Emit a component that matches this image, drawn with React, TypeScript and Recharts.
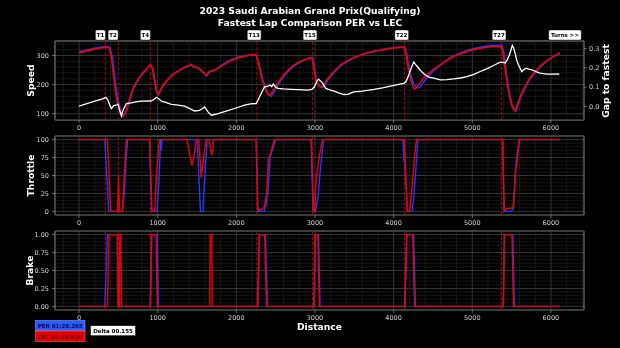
import React from 'react';
import { LineChart, Line, XAxis, YAxis, CartesianGrid, ReferenceLine, ReferenceArea } from 'recharts';

type Pt = [number, number];

// ---------- data ----------
const distanceTicks = [0, 1000, 2000, 3000, 4000, 5000, 6000];
const speedTicks = [100, 200, 300];
const gapTicks = [0, 0.1, 0.2, 0.3];
const throttleTicks = [0, 25, 50, 75, 100];
const brakeTicks = [0, 0.25, 0.5, 0.75, 1];

const turnNames = ['T1', 'T2', 'T4', 'T13', 'T15', 'T22', 'T27'];
const turnLineDist = [335, 500, 907, 2260, 2968, 4139, 5373];
const turnLabelDist = [272, 433, 843, 2227, 2937, 4103, 5341];
const turnsMoreText = 'Turns >>';
const turnsMoreDist = 6179;

const titleLines = ['2023 Saudi Arabian Grand Prix(Qualifying)', 'Fastest Lap Comparison PER vs LEC'];
const driverNames = ['PER', 'LEC'];
const lapTimes = ['01:28.265', '01:28.420'];
const deltaText = 'Delta 00.155';

const perSpeed: Pt[] = [
  [0, 312], [100, 319], [200, 325], [300, 330], [370, 331], [395, 326], [425, 290], [455, 225], [480, 170],
  [505, 135], [525, 118], [540, 100], [558, 89], [580, 96], [610, 115], [650, 150], [690, 184], [730, 206],
  [770, 223], [810, 238], [860, 253], [895, 265], [915, 268], [940, 250], [965, 210], [990, 172], [1012, 165],
  [1050, 188], [1128, 216], [1190, 234], [1255, 246], [1330, 257], [1400, 265], [1430, 268], [1445, 263],
  [1510, 259], [1560, 245], [1625, 230], [1645, 238], [1665, 245], [1700, 247], [1722, 250], [1800, 264],
  [1892, 280], [2019, 294], [2147, 301], [2255, 302], [2290, 270], [2330, 222], [2370, 188], [2410, 166],
  [2443, 160], [2475, 172], [2530, 200], [2610, 231], [2690, 254], [2770, 271], [2850, 283], [2930, 291],
  [2968, 294], [2995, 255], [3020, 212], [3050, 196], [3090, 190], [3115, 194], [3170, 219], [3250, 244],
  [3340, 268], [3430, 283], [3510, 294], [3610, 304], [3710, 312], [3810, 318], [3910, 323], [4010, 327],
  [4090, 329], [4140, 330], [4170, 300], [4205, 245], [4250, 205], [4290, 190], [4330, 189], [4370, 205],
  [4436, 228], [4500, 245], [4570, 262], [4650, 279], [4750, 297], [4850, 309], [4950, 319], [5050, 326],
  [5150, 331], [5250, 334], [5375, 335], [5400, 310], [5425, 255], [5465, 182], [5505, 130], [5535, 110],
  [5555, 108], [5585, 133], [5625, 163], [5685, 196], [5745, 223], [5805, 244], [5885, 266], [5965, 284],
  [6045, 298], [6115, 308],
];

const lecSpeed: Pt[] = [
  [0, 309], [100, 316], [200, 322], [300, 327], [360, 329], [385, 326], [410, 295], [440, 230], [465, 170],
  [490, 135], [515, 120], [530, 100], [548, 90], [570, 95], [600, 112], [640, 148], [680, 182], [720, 205],
  [760, 222], [800, 237], [850, 252], [890, 264], [912, 268], [935, 255], [960, 215], [985, 175], [1005, 166],
  [1060, 195], [1128, 217], [1190, 235], [1255, 246], [1330, 258], [1400, 266], [1430, 270], [1445, 262],
  [1510, 258], [1560, 248], [1616, 232], [1640, 240], [1660, 246], [1700, 246], [1722, 249], [1800, 262],
  [1892, 277], [2019, 292], [2147, 300], [2252, 302], [2285, 270], [2320, 225], [2360, 190], [2400, 167],
  [2425, 162], [2460, 175], [2520, 202], [2600, 232], [2680, 255], [2760, 272], [2840, 283], [2920, 290],
  [2962, 293], [2985, 260], [3010, 215], [3040, 198], [3075, 192], [3100, 195], [3160, 220], [3240, 245],
  [3330, 269], [3420, 283], [3500, 293], [3600, 303], [3700, 311], [3800, 317], [3900, 322], [4000, 326],
  [4080, 328], [4135, 329], [4160, 300], [4190, 250], [4230, 205], [4260, 185], [4280, 186], [4330, 205],
  [4400, 228], [4480, 246], [4560, 262], [4650, 278], [4750, 295], [4850, 306], [4950, 316], [5050, 322],
  [5150, 327], [5250, 330], [5370, 331], [5395, 305], [5420, 250], [5460, 180], [5500, 130], [5530, 112],
  [5550, 112], [5580, 135], [5620, 165], [5680, 198], [5740, 225], [5800, 245], [5880, 267], [5960, 284],
  [6040, 298], [6115, 309],
];

const gapToFastest: Pt[] = [
  [0, 0.0], [100, 0.013], [200, 0.026], [300, 0.038], [340, 0.046], [370, 0.03], [395, 0.0], [412, -0.012],
  [440, 0.003], [470, 0.005], [496, 0.01], [515, -0.02], [538, -0.05], [560, -0.02], [602, 0.014], [666, 0.017],
  [720, 0.022], [793, 0.026], [912, 0.027], [950, 0.035], [984, 0.046], [1010, 0.04], [1047, 0.026],
  [1110, 0.018], [1174, 0.01], [1260, 0.006], [1343, 0.0], [1420, -0.015], [1470, -0.025], [1530, -0.022],
  [1560, -0.015], [1597, -0.004], [1640, -0.03], [1681, -0.047], [1740, -0.042], [1808, -0.033], [1900, -0.022],
  [1977, -0.012], [2104, 0.005], [2180, 0.012], [2250, 0.014], [2274, 0.03], [2320, 0.07], [2357, 0.1],
  [2400, 0.105], [2430, 0.11], [2450, 0.102], [2470, 0.115], [2500, 0.1], [2527, 0.093], [2600, 0.09],
  [2696, 0.088], [2800, 0.086], [2906, 0.084], [2960, 0.088], [2991, 0.1], [3030, 0.135], [3046, 0.14],
  [3070, 0.132], [3096, 0.12], [3138, 0.093], [3190, 0.085], [3243, 0.079], [3300, 0.07], [3369, 0.061],
  [3420, 0.062], [3454, 0.068], [3496, 0.075], [3600, 0.079], [3749, 0.088], [3860, 0.096], [3961, 0.105],
  [4050, 0.112], [4130, 0.119], [4160, 0.13], [4193, 0.163], [4225, 0.2], [4256, 0.23], [4290, 0.212],
  [4320, 0.198], [4360, 0.178], [4404, 0.163], [4450, 0.152], [4510, 0.146], [4594, 0.137], [4680, 0.139],
  [4763, 0.142], [4850, 0.147], [4932, 0.154], [5020, 0.166], [5101, 0.181], [5190, 0.196], [5270, 0.212],
  [5355, 0.23], [5390, 0.228], [5418, 0.225], [5450, 0.245], [5481, 0.277], [5500, 0.305], [5510, 0.317],
  [5525, 0.305], [5545, 0.277], [5565, 0.24], [5587, 0.216], [5630, 0.18], [5655, 0.19], [5684, 0.198],
  [5720, 0.193], [5756, 0.19], [5810, 0.18], [5862, 0.172], [5946, 0.167], [6030, 0.167], [6106, 0.168],
];

const perThrottle: Pt[] = [
  [0, 100], [327, 100], [378, 0], [552, 0], [575, 25], [590, 60], [617, 100], [895, 100], [922, 0], [990, 0],
  [1015, 40], [1038, 100], [1044, 85], [1054, 100], [1502, 100], [1544, 0], [1574, 0], [1600, 50], [1629, 100],
  [2255, 100], [2275, 0], [2355, 0], [2380, 10], [2400, 25], [2430, 75], [2470, 90], [2503, 100], [2950, 100],
  [2975, 0], [3005, 0], [3040, 20], [3065, 55], [3090, 80], [3107, 100], [4120, 100], [4130, 70], [4140, 70],
  [4178, 0], [4235, 0], [4260, 25], [4290, 70], [4307, 100], [5386, 100], [5406, 0], [5490, 0], [5522, 3],
  [5547, 50], [5560, 70], [5597, 100], [6115, 100],
];

const lecThrottle: Pt[] = [
  [0, 100], [361, 100], [403, 0], [490, 0], [502, 50], [515, 0], [552, 0], [580, 60], [602, 100], [898, 100],
  [928, 0], [961, 0], [990, 60], [1024, 100], [1371, 100], [1435, 64], [1460, 76], [1489, 100], [1523, 100],
  [1553, 47], [1585, 75], [1616, 100], [1650, 100], [1688, 78], [1713, 100], [2250, 100], [2271, 2], [2334, 3],
  [2360, 8], [2385, 25], [2410, 73], [2440, 82], [2482, 100], [2955, 100], [2981, 0], [2998, 0], [3010, 36],
  [3032, 58], [3060, 80], [3095, 100], [4138, 100], [4172, 0], [4205, 0], [4240, 40], [4265, 75], [4290, 100],
  [5386, 100], [5406, 2], [5446, 4], [5522, 5], [5547, 50], [5572, 70], [5597, 100], [6115, 100],
];

const perBrake: Pt[] = [
  [0, 0], [327, 0], [361, 1], [490, 1], [500, 0], [910, 0], [925, 1], [994, 1], [1009, 0], [2275, 0],
  [2295, 1], [2370, 1], [2395, 0], [2990, 0], [3005, 1], [3045, 1], [3065, 0], [4145, 0], [4170, 1],
  [4255, 1], [4277, 0], [5395, 0], [5410, 1], [5515, 1], [5535, 0], [6115, 0],
];

const lecBrake: Pt[] = [
  [0, 0], [361, 0], [382, 1], [485, 1], [495, 0], [512, 0], [518, 1], [530, 1], [540, 0], [904, 0], [919, 1],
  [979, 1], [994, 0], [1662, 0], [1667, 1], [1687, 1], [1692, 0], [2270, 0], [2290, 1], [2359, 1], [2385, 0],
  [2985, 0], [3000, 1], [3037, 1], [3057, 0], [4140, 0], [4165, 1], [4242, 1], [4267, 0], [5395, 0],
  [5410, 1], [5505, 1], [5525, 0], [6115, 0],
];

// ---------- styling ----------
const FONT = '"DejaVu Sans", sans-serif';
const PER_COLOR = '#1f3cff';
const LEC_COLOR = '#ee0000';
const GAP_COLOR = '#ffffff';
const TURN_COLOR = '#c40000';
const MAJOR_GRID = '#4e4e4e';
const MINOR_GRID = '#262626';
const FRAME = '#8a8a8a';
const TICK_FILL = '#d0d0d0';

const X_DOMAIN: [number, number] = [-306, 6421];
const SPEED_DOMAIN: [number, number] = [78, 350];
const GAP_DOMAIN: [number, number] = [-0.072, 0.34];
const THR_DOMAIN: [number, number] = [-5, 105];
const BRK_DOMAIN: [number, number] = [-0.05, 1.05];

const W = 620;
const H = 348;
const CH = 135;
const MARGIN = { top: 41, right: 0, bottom: 0, left: 0 };
const PANEL_TOPS = [0, 95, 190];

const toData = (pts: Pt[]) => pts.map(([d, v]) => ({ d, v }));

const minorTicks = (lo: number, hi: number, step: number, major: number) => {
  const out: number[] = [];
  const n0 = Math.ceil(lo / step);
  const n1 = Math.floor(hi / step);
  for (let i = n0; i <= n1; i++) {
    const v = +(i * step).toFixed(6);
    const r = Math.abs(v / major - Math.round(v / major));
    if (r > 1e-6) out.push(v);
  }
  return out;
};

const xMinor = minorTicks(X_DOMAIN[0], X_DOMAIN[1], 200, 1000);

const tickStyle = { fill: TICK_FILL, fontSize: 6.5, fontFamily: FONT };

const TurnTag = (props: any) => {
  const vb = props.viewBox || {};
  const text: string = props.text;
  const w = text.length * 3.75 + 2.5;
  const x = vb.x;
  const yTop = vb.y - 11;
  return (
    <g>
      <rect x={x - w / 2} y={yTop} width={w} height={10} rx={1.5} ry={1.5} fill="#ffffff" stroke="#000" strokeWidth={0.4} />
      <text x={x} y={yTop + 7.1} textAnchor="middle" fontSize={5.5} fontWeight="bold" fontFamily={FONT} fill="#000">
        {text}
      </text>
    </g>
  );
};

function commonBackground(yMinor: number[]) {
  return [
    ...xMinor.map((v) => <ReferenceLine key={'xm' + v} x={v} stroke={MINOR_GRID} strokeWidth={0.6} />),
    ...yMinor.map((v) => <ReferenceLine key={'ym' + v} y={v} stroke={MINOR_GRID} strokeWidth={0.6} />),
  ];
}

function turnLines() {
  return turnLineDist.map((d, i) => (
    <ReferenceLine key={'tl' + i} x={d} stroke={TURN_COLOR} strokeWidth={0.9} strokeDasharray="3 2" />
  ));
}

function frame(yDomain: [number, number]) {
  return (
    <ReferenceArea
      x1={X_DOMAIN[0]}
      x2={X_DOMAIN[1]}
      y1={yDomain[0]}
      y2={yDomain[1]}
      fill="none"
      fillOpacity={0}
      stroke={FRAME}
      strokeWidth={0.8}
      ifOverflow="visible"
    />
  );
}

const xAxis = (
  <XAxis
    type="number"
    dataKey="d"
    domain={X_DOMAIN}
    allowDataOverflow
    ticks={distanceTicks}
    height={15}
    tick={tickStyle}
    tickSize={3}
    tickMargin={2}
    tickLine={{ stroke: '#aaaaaa', strokeWidth: 0.6 }}
    axisLine={false}
    interval={0}
  />
);

const layerStyle: React.CSSProperties = { position: 'absolute', left: 0, willChange: 'transform' };

export default function App() {
  const speedMinor = minorTicks(SPEED_DOMAIN[0], SPEED_DOMAIN[1], 20, 100);
  const thrMinor = minorTicks(THR_DOMAIN[0], THR_DOMAIN[1], 5, 25);
  const brkMinor = minorTicks(BRK_DOMAIN[0], BRK_DOMAIN[1], 0.05, 0.25);

  const yLabel = (text: string, x: number, y: number) => (
    <text
      x={x}
      y={y}
      transform={`rotate(-90 ${x} ${y})`}
      textAnchor="middle"
      dominantBaseline="central"
      fontSize={9.2}
      fontWeight="bold"
      fontFamily={FONT}
      fill="#ffffff"
    >
      {text}
    </text>
  );

  return (
    <div style={{ position: 'absolute', left: 0, top: 0, width: W, height: H, background: '#000', overflow: 'hidden' }}>
      {/* Speed panel */}
      <div style={{ ...layerStyle, top: PANEL_TOPS[0] }}>
        <LineChart width={W} height={CH} margin={MARGIN}>
          {commonBackground(speedMinor)}
          <CartesianGrid stroke={MAJOR_GRID} strokeWidth={0.7} />
          {xAxis}
          <YAxis
            type="number"
            domain={SPEED_DOMAIN}
            allowDataOverflow
            ticks={speedTicks}
            width={55}
            tick={tickStyle}
            tickSize={3}
            tickMargin={3}
            tickLine={{ stroke: '#aaaaaa', strokeWidth: 0.6 }}
            axisLine={false}
            interval={0}
          />
          <YAxis
            yAxisId="gap"
            orientation="right"
            type="number"
            domain={GAP_DOMAIN}
            allowDataOverflow
            ticks={gapTicks}
            tickFormatter={(v: number) => v.toFixed(1)}
            width={36}
            tick={tickStyle}
            tickSize={3}
            tickMargin={2}
            tickLine={{ stroke: '#aaaaaa', strokeWidth: 0.6 }}
            axisLine={false}
            interval={0}
          />
          {turnLines()}
          {turnNames.map((t, i) => (
            <ReferenceLine
              key={'tag' + i}
              x={turnLabelDist[i]}
              stroke="none"
              strokeOpacity={0}
              label={(p: any) => <TurnTag {...p} text={t} />}
            />
          ))}
          <ReferenceLine
            x={turnsMoreDist}
            stroke="none"
            strokeOpacity={0}
            label={(p: any) => <TurnTag {...p} text={turnsMoreText} />}
          />
          <Line data={toData(perSpeed)} dataKey="v" stroke={PER_COLOR} strokeWidth={1.6} dot={false} isAnimationActive={false} />
          <Line data={toData(lecSpeed)} dataKey="v" stroke={LEC_COLOR} strokeWidth={1.6} dot={false} isAnimationActive={false} />
          <Line data={toData(gapToFastest)} yAxisId="gap" dataKey="v" stroke={GAP_COLOR} strokeWidth={1.3} dot={false} isAnimationActive={false} />
          {frame(SPEED_DOMAIN)}
        </LineChart>
      </div>

      {/* Throttle panel */}
      <div style={{ ...layerStyle, top: PANEL_TOPS[1] }}>
        <LineChart width={W} height={CH} margin={{ ...MARGIN, right: 36 }}>
          {commonBackground(thrMinor)}
          <CartesianGrid stroke={MAJOR_GRID} strokeWidth={0.7} />
          {xAxis}
          <YAxis
            type="number"
            domain={THR_DOMAIN}
            allowDataOverflow
            ticks={throttleTicks}
            width={55}
            tick={tickStyle}
            tickSize={3}
            tickMargin={3}
            tickLine={{ stroke: '#aaaaaa', strokeWidth: 0.6 }}
            axisLine={false}
            interval={0}
          />
          {turnLines()}
          <Line data={toData(perThrottle)} dataKey="v" stroke={PER_COLOR} strokeWidth={1.4} dot={false} isAnimationActive={false} />
          <Line data={toData(lecThrottle)} dataKey="v" stroke={LEC_COLOR} strokeWidth={1.4} dot={false} isAnimationActive={false} />
          {frame(THR_DOMAIN)}
        </LineChart>
      </div>

      {/* Brake panel */}
      <div style={{ ...layerStyle, top: PANEL_TOPS[2] }}>
        <LineChart width={W} height={CH} margin={{ ...MARGIN, right: 36 }}>
          {commonBackground(brkMinor)}
          <CartesianGrid stroke={MAJOR_GRID} strokeWidth={0.7} />
          {xAxis}
          <YAxis
            type="number"
            domain={BRK_DOMAIN}
            allowDataOverflow
            ticks={brakeTicks}
            tickFormatter={(v: number) => v.toFixed(2)}
            width={55}
            tick={tickStyle}
            tickSize={3}
            tickMargin={3}
            tickLine={{ stroke: '#aaaaaa', strokeWidth: 0.6 }}
            axisLine={false}
            interval={0}
          />
          {turnLines()}
          <Line data={toData(perBrake)} dataKey="v" stroke={PER_COLOR} strokeWidth={1.4} dot={false} isAnimationActive={false} />
          <Line data={toData(lecBrake)} dataKey="v" stroke={LEC_COLOR} strokeWidth={1.4} dot={false} isAnimationActive={false} />
          {frame(BRK_DOMAIN)}
        </LineChart>
      </div>

      {/* Text overlay */}
      <svg width={W} height={H} style={{ ...layerStyle, top: 0, pointerEvents: 'none' }}>
        <text x={310} y={14.2} textAnchor="middle" fontSize={9.2} fontWeight="bold" fontFamily={FONT} fill="#fff">
          {titleLines[0]}
        </text>
        <text x={310} y={25.7} textAnchor="middle" fontSize={9.2} fontWeight="bold" fontFamily={FONT} fill="#fff">
          {titleLines[1]}
        </text>
        {yLabel('Speed', 30, 80.5)}
        {yLabel('Throttle', 30, 175.5)}
        {yLabel('Brake', 29, 270.5)}
        {yLabel('Gap to fastest', 605, 81)}
        <text x={319.5} y={326.3} textAnchor="middle" dominantBaseline="central" fontSize={9.2} fontWeight="bold" fontFamily={FONT} fill="#fff">
          Distance
        </text>

        {/* legend */}
        <rect x={35.5} y={320.5} width={49.5} height={10.5} fill="#2a5bff" stroke="#7fa0ff" strokeWidth={0.6} />
        <text x={60.2} y={328} textAnchor="middle" fontSize={5.5} fontWeight="bold" fontFamily={FONT} fill="#000a40">
          {`${driverNames[0]} ${lapTimes[0]}`}
        </text>
        <rect x={35.5} y={331} width={49.5} height={10.5} fill="#e80000" stroke="#ff6060" strokeWidth={0.6} />
        <text x={60.2} y={338.5} textAnchor="middle" fontSize={5.5} fontWeight="bold" fontFamily={FONT} fill="#5a0000">
          {`${driverNames[1]} ${lapTimes[1]}`}
        </text>
        <rect x={90.5} y={325.7} width={45} height={10} fill="#ffffff" stroke="#000" strokeWidth={0.5} />
        <text x={113} y={332.9} textAnchor="middle" fontSize={5.5} fontWeight="bold" fontFamily={FONT} fill="#000">
          {deltaText}
        </text>
      </svg>
    </div>
  );
}
